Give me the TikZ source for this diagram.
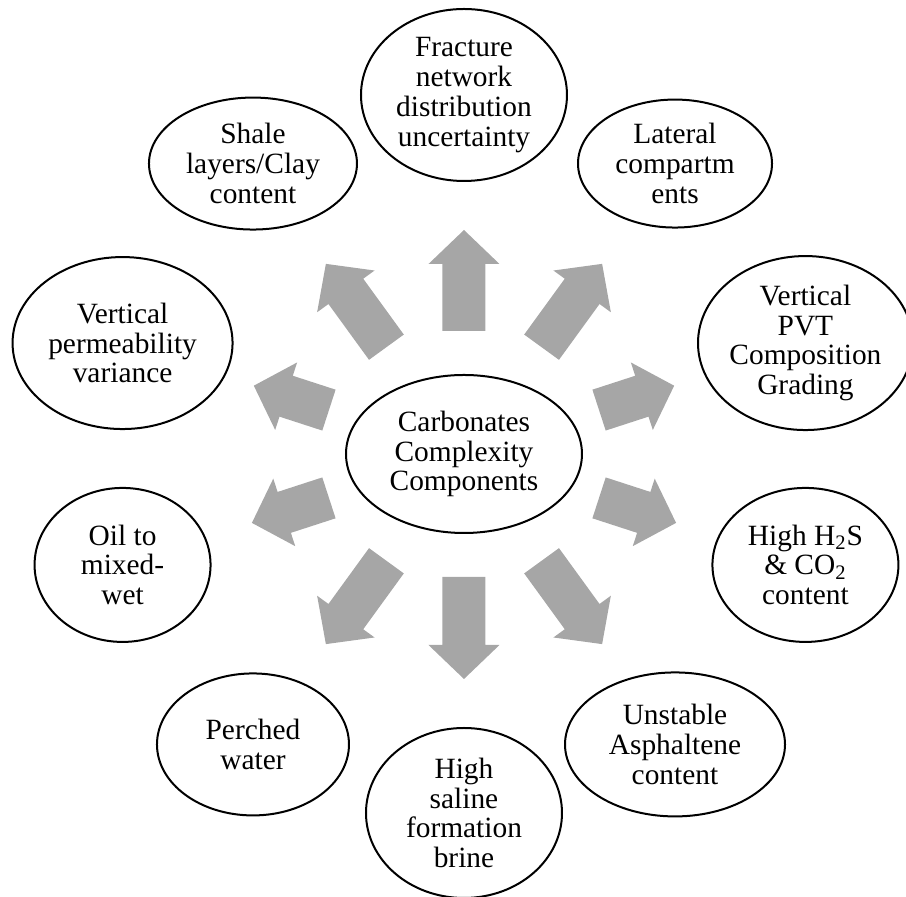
\documentclass[tikz,border=0pt]{standalone}
\usepackage{fontspec}
\setmainfont{Liberation Serif}
\usetikzlibrary{calc,shapes.geometric}
\definecolor{arrowgray}{HTML}{A6A6A6}
\newcommand{\ringr}{179.5pt}

\begin{document}
\begin{tikzpicture}[
	bubble/.style={ellipse,draw,line width=1pt,inner sep=0pt,align=center,font=\fontsize{14.7}{14.9}\selectfont},
	spoke/.style={fill=arrowgray}]
	\useasboundingbox (-232pt,-221.5pt) rectangle (221pt,227pt);
	\node[bubble,minimum width=118pt,minimum height=79pt] (c) at (0,0) {Carbonates\\Complexity\\Components};
	\node[bubble,minimum width=103pt,minimum height=86pt] (frac) at (90:\ringr) {Fracture\\network\\distribution\\uncertainty};
	\node[bubble,minimum width=97pt,minimum height=64pt] (lat) at (54:\ringr) {Lateral\\compartm\\ents};
	\node[bubble,minimum width=106pt,minimum height=87pt] (pvt) at (18:\ringr) {Vertical\\PVT\\Composition\\Grading};
	\node[bubble,minimum width=93pt,minimum height=77pt] (hs) at (-18:\ringr) {High H\textsubscript{2}S\\\& CO\textsubscript{2}\\content};
	\node[bubble,minimum width=110pt,minimum height=72pt] (asph) at (-54:\ringr) {Unstable\\Asphaltene\\content};
	\node[bubble,minimum width=98pt,minimum height=85pt] (brine) at (-90:\ringr) {High\\saline\\formation\\brine};
	\node[bubble,minimum width=96pt,minimum height=71pt] (perch) at (-126:\ringr) {Perched\\water};
	\node[bubble,minimum width=88pt,minimum height=77pt] (wet) at (-162:\ringr) {Oil to\\mixed-\\wet};
	\node[bubble,minimum width=110pt,minimum height=86pt] (perm) at (162:\ringr) {Vertical\\permeability\\variance};
	\node[bubble,minimum width=104pt,minimum height=66pt] (shale) at (126:\ringr) {Shale\\layers/Clay\\content};
	% block arrows from the centre towards each bubble (start and tip radius)
	\foreach \dest/\rin/\rout in {frac/61.5/112, brine/61.5/112.5, lat/66/117.5, asph/66/117.5, perch/66/117.5, shale/66/117.5, pvt/71/110.5, hs/71/111.5, wet/71/111.5, perm/71/110.5}{
		\path let \p1=($(\dest.center)-(c.center)$) in \pgfextra{\pgfmathsetmacro{\ang}{atan2(\y1,\x1)}\global\let\spokeang\ang};
		\fill[spoke,shift={(c.center)},rotate=\spokeang] (\rin pt,-10.75pt) -- (\rout pt-17pt,-10.75pt) -- (\rout pt-17pt,-17.75pt)
			-- (\rout pt,0pt) -- (\rout pt-17pt,17.75pt) -- (\rout pt-17pt,10.75pt) -- (\rin pt,10.75pt) -- cycle;
	}
\end{tikzpicture}
\end{document}
